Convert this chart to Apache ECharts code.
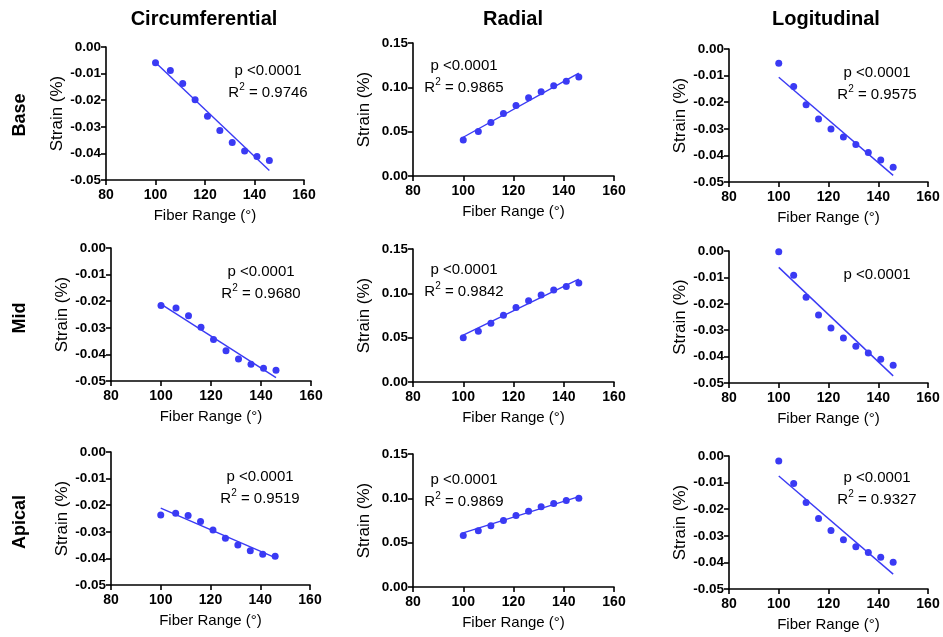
<!DOCTYPE html>
<html>
<head>
<meta charset="utf-8">
<script src="https://cdn.jsdelivr.net/npm/echarts@6/dist/echarts.min.js"></script>
<style>
  html, body { margin: 0; padding: 0; background: #fff; }
  #chart { width: 943px; height: 637px; }
</style>
</head>
<body>
<div id="chart"></div>
<script>
// Fiber range (degrees) shared by every panel
const fiberRange = [100, 106, 111, 116, 121, 126, 131, 136, 141, 146];

// Strain (%) per region and direction
const circBase     = [-0.0059, -0.0088, -0.0137, -0.0198, -0.0260, -0.0314, -0.0359, -0.0391, -0.0412, -0.0427];
const radialBase   = [0.0407, 0.0501, 0.0603, 0.0705, 0.0795, 0.0882, 0.0950, 0.1018, 0.1070, 0.1116];
const longBase     = [-0.0054, -0.0141, -0.0210, -0.0263, -0.0301, -0.0331, -0.0359, -0.0389, -0.0417, -0.0445];
const circMid      = [-0.0216, -0.0226, -0.0255, -0.0298, -0.0344, -0.0386, -0.0417, -0.0437, -0.0452, -0.0460];
const radialMid    = [0.0498, 0.0573, 0.0663, 0.0754, 0.0841, 0.0916, 0.0980, 0.1037, 0.1078, 0.1116];
const longMid      = [-0.0003, -0.0092, -0.0175, -0.0242, -0.0292, -0.0330, -0.0361, -0.0386, -0.0410, -0.0433];
const circApical   = [-0.0237, -0.0230, -0.0239, -0.0261, -0.0293, -0.0324, -0.0350, -0.0371, -0.0384, -0.0392];
const radialApical = [0.0581, 0.0634, 0.0690, 0.0750, 0.0806, 0.0855, 0.0904, 0.0941, 0.0975, 0.1001];
const longApical   = [-0.0019, -0.0103, -0.0175, -0.0235, -0.0280, -0.0315, -0.0341, -0.0363, -0.0381, -0.0399];

// Linear regression lines, evaluated at the ends of the fiber range
const fitX            = [100, 146];
const circBaseFit     = [-0.0058, -0.0464];
const radialBaseFit   = [0.0437, 0.1161];
const longBaseFit     = [-0.0106, -0.0475];
const circMidFit      = [-0.0211, -0.0487];
const radialMidFit    = [0.0528, 0.1161];
const longMidFit      = [-0.0062, -0.0473];
const circApicalFit   = [-0.0211, -0.0397];
const radialApicalFit = [0.0611, 0.1020];
const longApicalFit   = [-0.0075, -0.0444];

// Statistics text
const pText = 'p <0.0001';
const rSquared = ['0.9746', '0.9865', '0.9575', '0.9680', '0.9842', null, '0.9519', '0.9869', '0.9327'];

// Headings
const columnTitles = ['Circumferential', 'Radial', 'Logitudinal'];
const rowTitles = ['Base', 'Mid', 'Apical'];

// Axis ranges
const xTicks = { min: 80, max: 160, interval: 20 };
const negTicks = { min: -0.05, max: 0, interval: 0.01 };
const posTicks = { min: 0, max: 0.15, interval: 0.05 };

const panels = [
  { y: circBase, fit: circBaseFit, range: negTicks },
  { y: radialBase, fit: radialBaseFit, range: posTicks },
  { y: longBase, fit: longBaseFit, range: negTicks },
  { y: circMid, fit: circMidFit, range: negTicks },
  { y: radialMid, fit: radialMidFit, range: posTicks },
  { y: longMid, fit: longMidFit, range: negTicks },
  { y: circApical, fit: circApicalFit, range: negTicks },
  { y: radialApical, fit: radialApicalFit, range: posTicks },
  { y: longApical, fit: longApicalFit, range: negTicks }
];

// Plot-area boxes (left, top, width, height)
const boxes = [
  [106, 47, 198, 133], [413, 43, 201, 133], [729, 49, 199, 133],
  [111, 248, 200, 133], [413, 249, 201, 133], [729, 251, 199, 132],
  [111, 452, 199, 133], [413, 454, 201, 133], [729, 456, 199, 133]
];

// Centres of the statistics text (p line; R² line sits below)
const statPos = [
  [268, 71], [464, 66], [877, 73],
  [261, 272], [464, 270], [877, 275],
  [260, 477], [464, 480], [877, 478]
];

const FONT = '"Liberation Sans", Arial, Helvetica, sans-serif';
const BLUE = '#3a3af4';

const grids = [], xAxes = [], yAxes = [], series = [], graphics = [];

panels.forEach((p, i) => {
  const b = boxes[i];
  grids.push({ left: b[0], top: b[1], width: b[2], height: b[3], containLabel: false });
  const axisLine = { show: true, onZero: false, lineStyle: { color: '#000', width: 1.6 } };
  const axisTick = { show: true, inside: false, length: 5, lineStyle: { color: '#000', width: 1.6 } };
  xAxes.push({
    type: 'value', gridIndex: i, min: xTicks.min, max: xTicks.max, interval: xTicks.interval,
    axisLine, axisTick, splitLine: { show: false },
    axisLabel: { color: '#000', fontFamily: FONT, fontWeight: 'bold', fontSize: 14, margin: 8 },
    name: 'Fiber Range (°)', nameLocation: 'middle', nameGap: 28,
    nameTextStyle: { color: '#000', fontFamily: FONT, fontSize: 15 }
  });
  yAxes.push({
    type: 'value', gridIndex: i, min: p.range.min, max: p.range.max, interval: p.range.interval,
    axisLine, axisTick, splitLine: { show: false },
    axisLabel: {
      color: '#000', fontFamily: FONT, fontWeight: 'bold', fontSize: 13.5, margin: 5,
      formatter: v => (Math.abs(v) < 1e-9 ? 0 : v).toFixed(2)
    },
    name: 'Strain (%)', nameLocation: 'middle', nameGap: 40,
    nameTextStyle: { color: '#000', fontFamily: FONT, fontSize: 17 }
  });
  series.push({
    type: 'scatter', xAxisIndex: i, yAxisIndex: i,
    data: fiberRange.map((x, k) => [x, p.y[k]]),
    symbol: 'circle', symbolSize: 7,
    itemStyle: { color: BLUE, opacity: 1 }, z: 3
  });
  series.push({
    type: 'line', xAxisIndex: i, yAxisIndex: i,
    data: fitX.map((x, k) => [x, p.fit[k]]),
    symbol: 'none', lineStyle: { color: BLUE, width: 1.4 }, z: 2
  });

  const s = statPos[i];
  graphics.push({
    type: 'text', x: s[0], y: s[1],
    style: { text: pText, fill: '#000', font: '15px ' + FONT, textAlign: 'center', textVerticalAlign: 'middle' }
  });
  if (rSquared[i]) {
    graphics.push({
      type: 'text', x: s[0], y: s[1] + 20,
      style: {
        text: '{n|R}{s|2}{n| = ' + rSquared[i] + '}',
        textAlign: 'center', textVerticalAlign: 'middle',
        rich: {
          n: { fontSize: 15, fontFamily: FONT, fill: '#000', lineHeight: 18, verticalAlign: 'bottom' },
          s: { fontSize: 10, fontFamily: FONT, fill: '#000', lineHeight: 18, verticalAlign: 'top', padding: [0, 0, 6, 0] }
        }
      }
    });
  }
});

// Column headings
const colCenters = [204, 513, 826];
columnTitles.forEach((t, c) => {
  graphics.push({
    type: 'text', x: colCenters[c], y: 19,
    style: { text: t, fill: '#000', font: 'bold 20px ' + FONT, textAlign: 'center', textVerticalAlign: 'middle' }
  });
});

// Row headings, rotated
const rowCenters = [115, 318, 522];
rowTitles.forEach((t, r) => {
  graphics.push({
    type: 'text', x: 20, y: rowCenters[r], rotation: Math.PI / 2,
    style: { text: t, fill: '#000', font: 'bold 18px ' + FONT, textAlign: 'center', textVerticalAlign: 'middle' }
  });
});

const chart = echarts.init(document.getElementById('chart'), null, { renderer: 'canvas' });
chart.setOption({
  backgroundColor: '#fff',
  animation: false,
  grid: grids,
  xAxis: xAxes,
  yAxis: yAxes,
  series: series,
  graphic: graphics
});
</script>
</body>
</html>
